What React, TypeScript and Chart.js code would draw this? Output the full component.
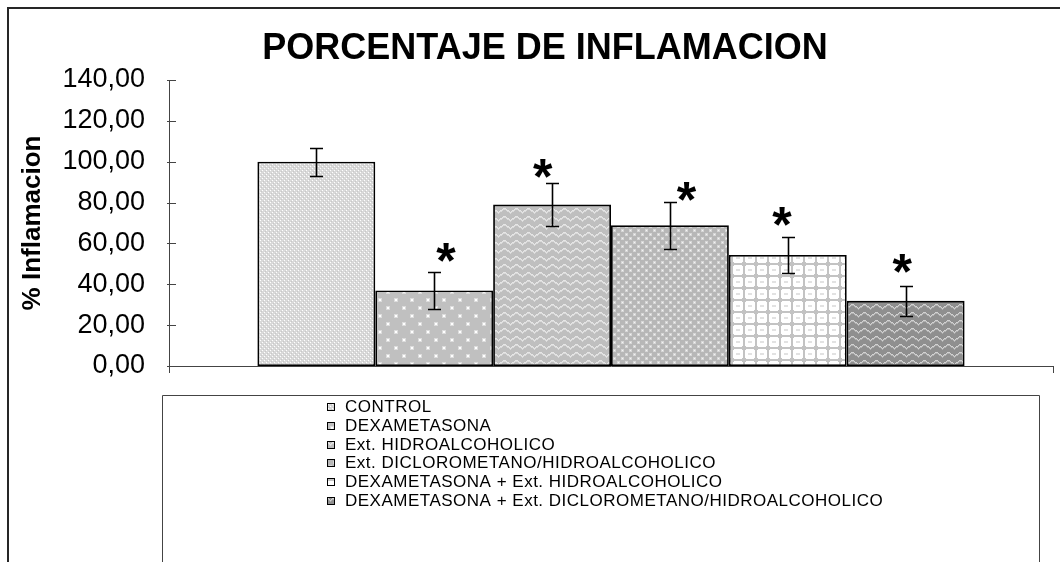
import React, { useEffect, useRef } from "react";
import { Chart, registerables } from "chart.js";

Chart.register(...registerables);

// ---------- data ----------
const categories = [""];
const seriesNames = [
  "CONTROL",
  "DEXAMETASONA",
  "Ext. HIDROALCOHOLICO",
  "Ext. DICLOROMETANO/HIDROALCOHOLICO",
  "DEXAMETASONA + Ext. HIDROALCOHOLICO",
  "DEXAMETASONA + Ext. DICLOROMETANO/HIDROALCOHOLICO",
];
const meanValues = [100.0, 37.0, 79.0, 68.9, 54.3, 31.9];
const errorValues = [6.8, 9.2, 10.5, 11.4, 8.8, 7.5];
// significance marks (value where the "*" sits, and its sideways shift as a fraction of bar width)
const asteriskValues: (number | null)[] = [null, 55.8, 96.9, 85.2, 73.4, 50.4];
const asteriskShift = [0, 0.1, -0.08, 0.14, -0.05, -0.03];
const yMin = 0;
const yMax = 140;
const yStep = 20;
const chartTitle = "PORCENTAJE DE INFLAMACION";
const yAxisTitle = "% Inflamacion";

const FONT = "'Liberation Sans', Arial, sans-serif";

// ---------- patterns ----------
function makeTile(w: number, h: number, draw: (c: CanvasRenderingContext2D) => void) {
  const cv = document.createElement("canvas");
  cv.width = w;
  cv.height = h;
  const c = cv.getContext("2d")!;
  draw(c);
  return cv;
}
function px(c: CanvasRenderingContext2D, x: number, y: number, col: string, w = 1, h = 1) {
  c.fillStyle = col;
  c.fillRect(x, y, w, h);
}
function buildPatterns(ctx: CanvasRenderingContext2D): CanvasPattern[] {
  const tiles: HTMLCanvasElement[] = [];
  // 0 CONTROL: light gray lattice with white dots
  tiles.push(
    makeTile(4, 4, (c) => {
      px(c, 0, 0, "#d9d9d9", 4, 4);
      px(c, 0, 0, "#ffffff");
      px(c, 2, 2, "#ffffff");
      px(c, 1, 3, "#c8c8c8");
      px(c, 3, 1, "#c8c8c8");
    })
  );
  // 1 DEXAMETASONA: medium gray with sparse white dots
  tiles.push(
    makeTile(16, 16, (c) => {
      px(c, 0, 0, "#c0c0c0", 16, 16);
      px(c, 2, 2, "#dcdcdc", 4, 4);
      px(c, 3, 3, "#ffffff", 2, 2);
      px(c, 10, 10, "#dcdcdc", 4, 4);
      px(c, 11, 11, "#ffffff", 2, 2);
    })
  );
  // 2 Ext. HIDROALCOHOLICO: gray with light herringbone
  tiles.push(
    makeTile(12, 8, (c) => {
      px(c, 0, 0, "#bfbfbf", 12, 8);
      for (let x = 0; x < 12; x++) {
        const t = x < 6 ? x : 12 - x;
        const yy = Math.floor(t / 1.5);
        px(c, x, yy % 8, "#e6e6e6");
        px(c, x, (yy + 1) % 8, "#dadada");
      }
    })
  );
  // 3 Ext. DICLOROMETANO/HIDROALCOHOLICO: gray with denser white dots
  tiles.push(
    makeTile(8, 8, (c) => {
      px(c, 0, 0, "#b7b7b7", 8, 8);
      px(c, 1, 1, "#d6d6d6", 3, 3);
      px(c, 2, 2, "#f4f4f4");
      px(c, 5, 5, "#d6d6d6", 3, 3);
      px(c, 6, 6, "#f4f4f4");
    })
  );
  // 4 DEXA + HIDRO: white rounded cells on gray grid
  tiles.push(
    makeTile(12, 12, (c) => {
      px(c, 0, 0, "#c3c3c3", 12, 12);
      px(c, 2, 1, "#ffffff", 8, 10);
      px(c, 1, 2, "#ffffff", 10, 8);
      px(c, 4, 5, "#e2e2e2", 4, 2);
    })
  );
  // 5 DEXA + DICLORO: dark gray with light herringbone
  tiles.push(
    makeTile(12, 8, (c) => {
      px(c, 0, 0, "#8f8f8f", 12, 8);
      for (let x = 0; x < 12; x++) {
        const t = x < 6 ? x : 12 - x;
        const yy = Math.floor(t / 1.5);
        px(c, x, yy % 8, "#d2d2d2");
        px(c, x, (yy + 1) % 8, "#b0b0b0");
      }
    })
  );
  return tiles.map((t) => ctx.createPattern(t, "repeat")!);
}

// ---------- plugins ----------
const framePlugin = {
  id: "frame",
  beforeDraw(chart: any) {
    const { ctx, width, height } = chart;
    ctx.save();
    ctx.fillStyle = "#ffffff";
    ctx.fillRect(0, 0, width, height);
    ctx.strokeStyle = "#262626";
    ctx.lineWidth = 2;
    ctx.beginPath();
    ctx.moveTo(8, height + 2);
    ctx.lineTo(8, 8);
    ctx.lineTo(width + 2, 8);
    ctx.stroke();
    ctx.restore();
  },
};

const titlePlugin = {
  id: "bigTitle",
  afterDraw(chart: any) {
    const { ctx } = chart;
    ctx.save();
    ctx.fillStyle = "#000";
    ctx.font = `bold 36px ${FONT}`;
    ctx.textAlign = "center";
    ctx.textBaseline = "alphabetic";
    ctx.fillText(chartTitle, 545, 59);
    ctx.restore();
  },
};

const innerTicksPlugin = {
  id: "innerTicks",
  afterDraw(chart: any) {
    const { ctx, chartArea } = chart;
    const ys = chart.scales.y;
    ctx.save();
    ctx.strokeStyle = "#444";
    ctx.lineWidth = 1;
    ys.ticks.forEach((t: any) => {
      const y = Math.round(ys.getPixelForValue(t.value)) + 0.5;
      ctx.beginPath();
      ctx.moveTo(chartArea.left - 2, y);
      ctx.lineTo(chartArea.left + 7, y);
      ctx.stroke();
    });
    ctx.restore();
  },
};

const errorBarPlugin = {
  id: "errorBars",
  afterDatasetsDraw(chart: any) {
    const { ctx } = chart;
    const ys = chart.scales.y;
    ctx.save();
    chart.data.datasets.forEach((_ds: any, i: number) => {
      const bar = chart.getDatasetMeta(i).data[0];
      if (!bar) return;
      const x = Math.round(bar.x) + 0.5;
      const yt = Math.round(ys.getPixelForValue(meanValues[i] + errorValues[i])) + 0.5;
      const yb = Math.round(ys.getPixelForValue(meanValues[i] - errorValues[i])) + 0.5;
      ctx.strokeStyle = "#000";
      ctx.lineWidth = 1.6;
      ctx.beginPath();
      ctx.moveTo(x, yt);
      ctx.lineTo(x, yb);
      ctx.moveTo(x - 6.5, yt);
      ctx.lineTo(x + 6.5, yt);
      ctx.moveTo(x - 6.5, yb);
      ctx.lineTo(x + 6.5, yb);
      ctx.stroke();

      const av = asteriskValues[i];
      if (av !== null) {
        const w = bar.width;
        const ax = bar.x + asteriskShift[i] * w;
        const ay = ys.getPixelForValue(av);
        ctx.fillStyle = "#000";
        ctx.font = `bold 50px ${FONT}`;
        ctx.textAlign = "center";
        ctx.textBaseline = "alphabetic";
        const m = ctx.measureText("*");
        const asc = m.actualBoundingBoxAscent;
        const desc = m.actualBoundingBoxDescent;
        const base = ay - (desc - asc) / 2;
        ctx.fillText("*", ax, base);
      }
    });
    ctx.restore();
  },
};

const customLegendPlugin = {
  id: "customLegend",
  afterDraw(chart: any) {
    const { ctx, chartArea, height } = chart;
    const left = chartArea.left - 7;
    const right = chartArea.right - 14;
    const top = chartArea.bottom + 29;
    ctx.save();
    ctx.strokeStyle = "#444";
    ctx.lineWidth = 1;
    ctx.beginPath();
    ctx.moveTo(left + 0.5, height + 2);
    ctx.lineTo(left + 0.5, top + 0.5);
    ctx.lineTo(right + 0.5, top + 0.5);
    ctx.lineTo(right + 0.5, height + 2);
    ctx.stroke();

    const boxX = 327;
    const textX = 345;
    const firstY = top + 11.7;
    const rowH = 18.7;
    ctx.font = `17px ${FONT}`;
    (ctx as any).letterSpacing = "0.5px";
    ctx.textAlign = "left";
    ctx.textBaseline = "middle";
    chart.data.datasets.forEach((ds: any, i: number) => {
      const cy = firstY + i * rowH;
      ctx.fillStyle = ds.backgroundColor;
      ctx.fillRect(boxX, Math.round(cy - 3.5), 7, 7);
      ctx.strokeStyle = "#000";
      ctx.strokeRect(boxX + 0.5, Math.round(cy - 3.5) + 0.5, 7, 7);
      ctx.fillStyle = "#000";
      ctx.fillText(ds.label, textX, cy + 1);
    });
    ctx.restore();
  },
};

export default function App() {
  const ref = useRef<HTMLCanvasElement | null>(null);
  useEffect(() => {
    const canvas = ref.current!;
    const ctx = canvas.getContext("2d")!;
    const patterns = buildPatterns(ctx);
    const chart = new Chart(canvas, {
      type: "bar",
      data: {
        labels: categories,
        datasets: seriesNames.map((name, i) => ({
          label: name,
          data: [meanValues[i]],
          backgroundColor: patterns[i] as any,
          borderColor: "#000",
          borderWidth: 1.8,
          borderSkipped: false,
          categoryPercentage: 0.8,
          barPercentage: 1.0,
        })),
      },
      options: {
        responsive: false,
        animation: false,
        layout: { padding: { left: 8, right: 7, top: 80, bottom: 189 } },
        plugins: {
          legend: { display: false },
          tooltip: { enabled: false },
          title: { display: false },
        },
        scales: {
          x: {
            type: "category",
            offset: true,
            ticks: { display: false },
            grid: { drawOnChartArea: false, drawTicks: true, tickLength: 7, color: "#444", offset: true },
            border: { display: true, color: "#444", width: 1 },
          },
          y: {
            min: yMin,
            max: yMax,
            ticks: {
              stepSize: yStep,
              color: "#000",
              font: { family: FONT, size: 27 },
              padding: 24,
              callback: (v: any) => Number(v).toFixed(2).replace(".", ","),
            },
            grid: { display: false, drawTicks: false },
            border: { display: true, color: "#444", width: 1 },
            title: {
              display: true,
              text: yAxisTitle,
              color: "#000",
              font: { family: FONT, size: 26, weight: "bold" },
              padding: { top: 9, bottom: 0 },
            },
            afterFit: (s: any) => {
              s.width = 161;
            },
          },
        },
      },
      plugins: [framePlugin, titlePlugin, innerTicksPlugin, errorBarPlugin, customLegendPlugin],
    });
    return () => chart.destroy();
  }, []);
  return (
    <div style={{ position: "fixed", left: 0, top: 0, width: 1060, height: 562 }}>
      <canvas ref={ref} width={1060} height={562} style={{ display: "block" }} />
    </div>
  );
}
